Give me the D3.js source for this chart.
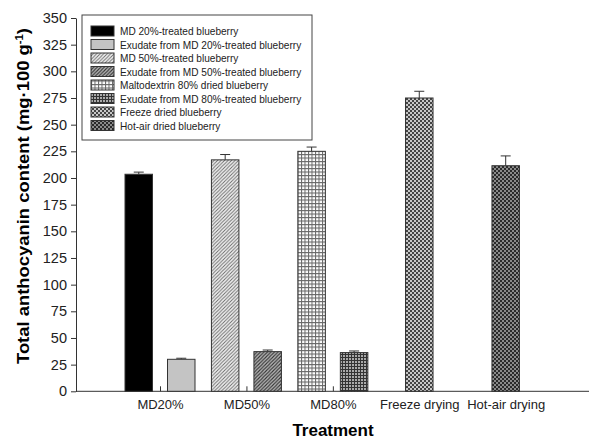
<!DOCTYPE html>
<html>
<head>
<meta charset="utf-8">
<script src="https://cdn.jsdelivr.net/npm/d3@7"></script>
<style>
  body { margin: 0; background: #fff; }
  svg { font-family: Arial, "Liberation Sans", sans-serif; }
  .axis text { fill: #222; }
  .axis line, .axis path { stroke: #333; }
</style>
</head>
<body>
<svg width="589" height="439"></svg>
<script>
// categories on the x axis
const categories = ['MD20%', 'MD50%', 'MD80%', 'Freeze drying', 'Hot-air drying'];

// legend names
const seriesNames = [
    'MD 20%-treated blueberry',
    'Exudate from MD 20%-treated blueberry',
    'MD 50%-treated blueberry',
    'Exudate from MD 50%-treated blueberry',
    'Maltodextrin 80% dried blueberry',
    'Exudate from MD 80%-treated blueberry',
    'Freeze dried blueberry',
    'Hot-air dried blueberry'
];

// treated blueberry (MD20, MD50, MD80)
const treatedValues = [203.5, 217, 225];
const treatedErr = [2, 5, 4];
// exudates (MD20, MD50, MD80)
const exudateValues = [30, 37.2, 36.3];
const exudateErr = [1, 1.5, 1.5];
// dried (freeze, hot-air)
const driedValues = [275, 211.5];
const driedErr = [6.3, 9.2];

const yTicks = d3.range(0, 351, 25);

const svg = d3.select('svg');
const defs = svg.append('defs');

// patterns for bar fills
function hatch(id, size, bg, stroke, sw) {
    const p = defs.append('pattern').attr('id', id)
        .attr('patternUnits', 'userSpaceOnUse')
        .attr('width', size).attr('height', size);
    p.append('rect').attr('width', size).attr('height', size).attr('fill', bg);
    p.append('path')
        .attr('d', `M0,${size} L${size},0 M${-size/2},${size/2} L${size/2},${-size/2} M${size/2},${size*1.5} L${size*1.5},${size/2}`)
        .attr('stroke', stroke).attr('stroke-width', sw);
}
function grid(id, size, bg, stroke, sw) {
    const p = defs.append('pattern').attr('id', id)
        .attr('patternUnits', 'userSpaceOnUse')
        .attr('width', size).attr('height', size);
    p.append('rect').attr('width', size).attr('height', size).attr('fill', bg);
    p.append('path')
        .attr('d', `M0,0.5 H${size} M0.5,0 V${size}`)
        .attr('stroke', stroke).attr('stroke-width', sw);
}
function checker(id, c1, c2) {
    const p = defs.append('pattern').attr('id', id)
        .attr('patternUnits', 'userSpaceOnUse')
        .attr('width', 4).attr('height', 4);
    p.append('rect').attr('width', 4).attr('height', 4).attr('fill', c2);
    p.append('rect').attr('width', 2).attr('height', 2).attr('fill', c1);
    p.append('rect').attr('x', 2).attr('y', 2).attr('width', 2).attr('height', 2).attr('fill', c1);
}
hatch('diagLight', 3.5, '#f2f2f2', '#666', 0.9);
hatch('diagDark', 3.5, '#bbb', '#333', 1.1);
grid('gridLight', 3.5, '#fff', '#666', 1);
grid('gridDark', 3, '#aaa', '#333', 1);
checker('chkLight', '#444', '#c8c8c8');
checker('chkDark', '#2a2a2a', '#8a8a8a');

const fills = ['#000', '#c4c4c4', 'url(#diagLight)', 'url(#diagDark)',
               'url(#gridLight)', 'url(#gridDark)', 'url(#chkLight)', 'url(#chkDark)'];

const plotLeft = 76, plotRight = 589, plotTop = 18, plotBottom = 391.3;

const y = d3.scaleLinear().domain([0, 350]).range([plotBottom, plotTop]);
const x = d3.scalePoint().domain(categories).range([160, 505.7]);
const frame = d3.scaleLinear().domain([0, 1]).range([plotLeft, plotRight]);

const barW = 27.5, gap = 15;

// build bar list
const bars = [];
treatedValues.forEach((v, i) => bars.push({ cat: categories[i], off: -gap / 2 - barW, v, e: treatedErr[i], s: i * 2 }));
exudateValues.forEach((v, i) => bars.push({ cat: categories[i], off: gap / 2, v, e: exudateErr[i], s: i * 2 + 1 }));
driedValues.forEach((v, i) => bars.push({ cat: categories[i + 3], off: -barW / 2, v, e: driedErr[i], s: 6 + i }));

// x axis
const gx = svg.append('g').attr('class', 'axis')
    .attr('transform', `translate(0,${plotBottom})`)
    .call(d3.axisBottom(x).tickSize(-5).tickSizeOuter(0).tickPadding(8))
    .style('font-size', '13px');
gx.select('.domain').remove();
svg.append('line')
    .attr('x1', frame(0)).attr('x2', frame(1))
    .attr('y1', plotBottom).attr('y2', plotBottom)
    .attr('stroke', '#333');

// y axis
const gy = svg.append('g').attr('class', 'axis')
    .attr('transform', `translate(${plotLeft},0)`)
    .call(d3.axisLeft(y).tickValues(yTicks).tickSize(5).tickSizeOuter(0).tickPadding(4))
    .style('font-size', '14.5px');

// error bars (upward only)
const eg = svg.append('g').attr('stroke', '#333').attr('stroke-width', 1);
bars.forEach(d => {
    const cx = x(d.cat) + d.off + barW / 2;
    eg.append('line').attr('x1', cx).attr('x2', cx).attr('y1', y(d.v)).attr('y2', y(d.v + d.e));
    eg.append('line').attr('x1', cx - 5).attr('x2', cx + 5).attr('y1', y(d.v + d.e)).attr('y2', y(d.v + d.e));
});

// bars
svg.selectAll('.bar')
    .data(bars)
    .enter().append('rect')
    .attr('class', 'bar')
    .attr('x', d => x(d.cat) + d.off)
    .attr('y', d => y(d.v))
    .attr('width', barW)
    .attr('height', d => y(0) - y(d.v))
    .attr('fill', d => fills[d.s])
    .attr('stroke', '#333')
    .attr('stroke-width', 1);

// legend
const lg = svg.append('g');
lg.append('rect')
    .attr('x', 82).attr('y', 15).attr('width', 230).attr('height', 125)
    .attr('fill', '#fff').attr('stroke', '#444');
seriesNames.forEach((name, i) => {
    const ry = 26 + i * 13.5;
    lg.append('rect').attr('x', 91).attr('y', ry).attr('width', 23).attr('height', 10)
        .attr('fill', fills[i]).attr('stroke', '#333');
    lg.append('text').attr('x', 120).attr('y', ry + 9)
        .style('font-size', '10.1px').attr('fill', '#222').text(name);
});

// axis titles
svg.append('text')
    .attr('x', 333).attr('y', 436)
    .attr('text-anchor', 'middle')
    .style('font-size', '17px').style('font-weight', 'bold')
    .text('Treatment');

const yt = svg.append('text')
    .attr('transform', 'translate(29,196) rotate(-90)')
    .attr('text-anchor', 'middle')
    .attr('textLength', 336).attr('lengthAdjust', 'spacingAndGlyphs')
    .style('font-size', '17px').style('font-weight', 'bold');
yt.append('tspan').text('Total anthocyanin content (mg·100 g');
yt.append('tspan').attr('dy', -6).style('font-size', '10.5px').text('-1');
yt.append('tspan').attr('dy', 6).text(')');
</script>
</body>
</html>
